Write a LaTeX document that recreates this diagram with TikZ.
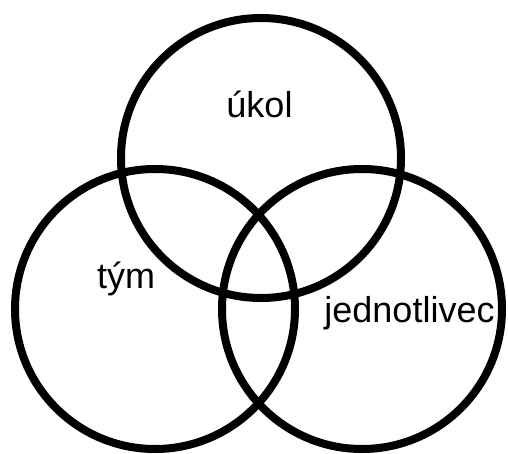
\documentclass[tikz,border=0pt]{standalone}
\usepackage{fontspec}
\setmainfont{Liberation Sans}
\begin{document}
\begin{tikzpicture}[x=1pt,y=-1pt,
  ring/.style={draw=black,line width=8pt,circle,minimum size=280pt,inner sep=0pt},
  label/.style={inner sep=0pt,anchor=base,font=\fontsize{36}{40}\selectfont}]
  \useasboundingbox[fill=white] (0,0) rectangle (508,454);
  % the three overlapping sets
  \node[ring] (task) at (261,158) {};
  \node[ring] (team) at (155,309) {};
  \node[ring] (indiv) at (362,309) {};
  % set names
  \node[label] (taskname) at (259.5,118) {úkol};
  \node[label] (teamname) at (126,288) {tým};
  \node[label] (indivname) at (409.5,322) {jednotlivec};
\end{tikzpicture}
\end{document}
